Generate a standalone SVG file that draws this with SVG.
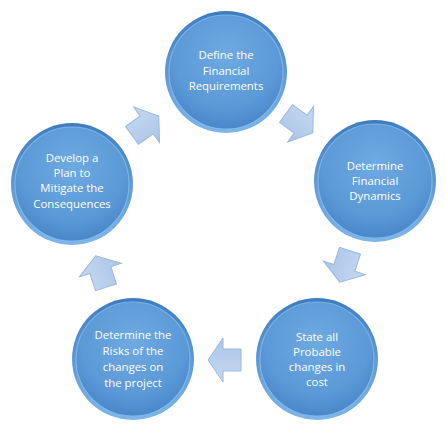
<svg xmlns="http://www.w3.org/2000/svg" width="446" height="428" viewBox="0 0 446 428">
<defs>
<radialGradient id="cg" cx="0.5" cy="0.35" r="0.65">
<stop offset="0" stop-color="#6eaae2"/>
<stop offset="0.7" stop-color="#5b99d7"/>
<stop offset="1" stop-color="#4a87c9"/>
</radialGradient>
<linearGradient id="rim" x1="0" y1="0" x2="0" y2="1">
<stop offset="0" stop-color="#3f7cc0"/>
<stop offset="1" stop-color="#7db6ea"/>
</linearGradient>
<linearGradient id="ag" x1="0" y1="0" x2="0" y2="1">
<stop offset="0" stop-color="#c5d8f0"/>
<stop offset="1" stop-color="#abc5e8"/>
</linearGradient>
<path id="arr" d="M-16,-11 L2,-11 L2,-22 L17,0 L2,22 L2,11 L-16,11 Z"/>
</defs>
<style>
.outer{fill:url(#rim);}
.inner{fill:url(#cg);stroke:#8cc0ee;stroke-width:1.2;stroke-opacity:0.7;}
.lbl{font-family:"Open Sans","Noto Sans","Liberation Sans",sans-serif;font-size:11.4px;fill:#ffffff;text-anchor:middle;}
.arrow{fill:url(#ag);stroke:#9db7de;stroke-width:1;}
</style>
<g id="connectors">
<use href="#arr" class="arrow" transform="translate(299,123) rotate(36)"/>
<use href="#arr" class="arrow" transform="translate(345,266) rotate(108)"/>
<use href="#arr" class="arrow" transform="translate(225,360) rotate(180)"/>
<use href="#arr" class="arrow" transform="translate(101,272) rotate(252)"/>
<use href="#arr" class="arrow" transform="translate(145,126) rotate(324)"/>
</g>
<g id="n1">
<circle class="outer" cx="226" cy="72" r="61"/>
<circle class="inner" cx="226" cy="72" r="57"/>
<text class="lbl" x="226" y="59">Define the</text>
<text class="lbl" x="226" y="75">Financial</text>
<text class="lbl" x="226" y="90">Requirements</text>
</g>
<g id="n2">
<circle class="outer" cx="375" cy="181" r="61"/>
<circle class="inner" cx="375" cy="181" r="57"/>
<text class="lbl" x="375" y="170">Determine</text>
<text class="lbl" x="375" y="185">Financial</text>
<text class="lbl" x="375" y="200">Dynamics</text>
</g>
<g id="n3">
<circle class="outer" cx="317" cy="359" r="61"/>
<circle class="inner" cx="317" cy="359" r="57"/>
<text class="lbl" x="317" y="341">State all</text>
<text class="lbl" x="317" y="356">Probable</text>
<text class="lbl" x="317" y="371">changes in</text>
<text class="lbl" x="317" y="386">cost</text>
</g>
<g id="n4">
<circle class="outer" cx="133" cy="359" r="61"/>
<circle class="inner" cx="133" cy="359" r="57"/>
<text class="lbl" x="133" y="339">Determine the</text>
<text class="lbl" x="133" y="355">Risks of the</text>
<text class="lbl" x="133" y="371">changes on</text>
<text class="lbl" x="133" y="387">the project</text>
</g>
<g id="n5">
<circle class="outer" cx="72" cy="184" r="61"/>
<circle class="inner" cx="72" cy="184" r="57"/>
<text class="lbl" x="72" y="162">Develop a</text>
<text class="lbl" x="72" y="177">Plan to</text>
<text class="lbl" x="72" y="192">Mitigate the</text>
<text class="lbl" x="72" y="208">Consequences</text>
</g>
</svg>
